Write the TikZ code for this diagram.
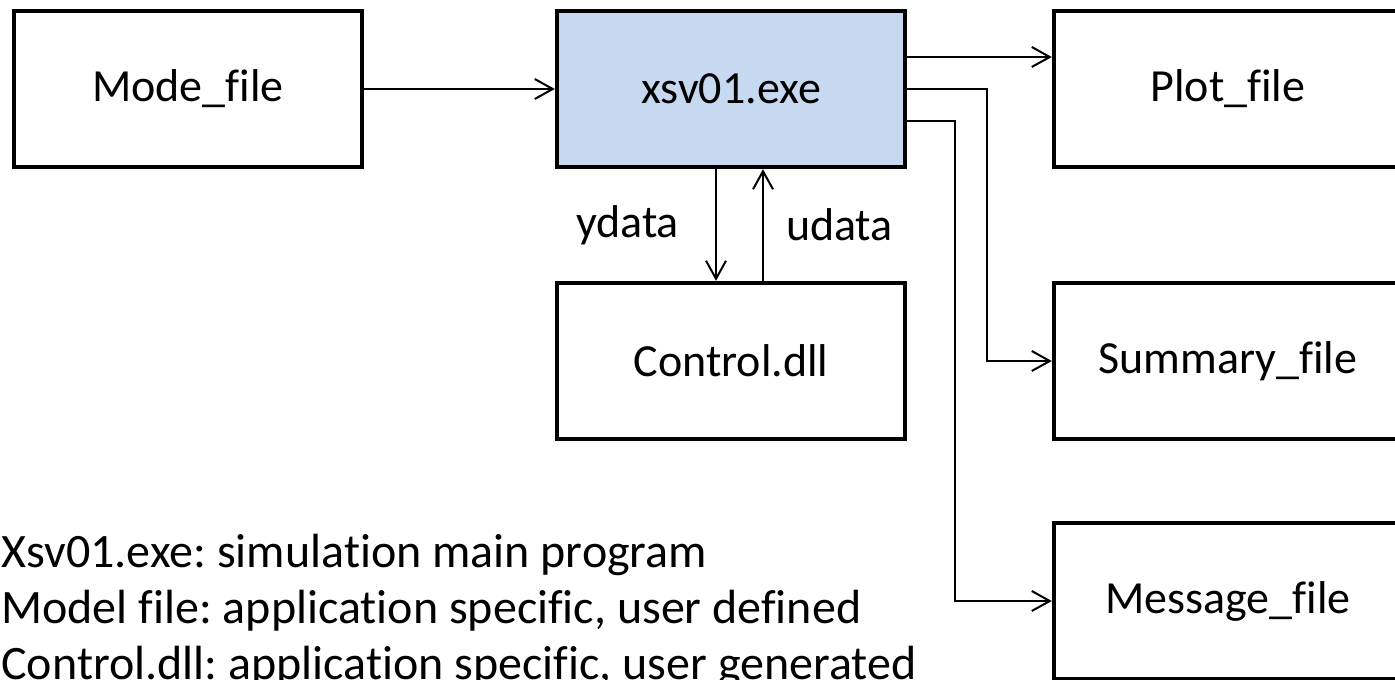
\documentclass[tikz,border=0pt]{standalone}
\usepackage{fontspec}
\setmainfont{Carlito}[Ligatures=NoCommon]
\usetikzlibrary{arrows.meta}
\definecolor{xsvblue}{RGB}{198,217,240}
\frenchspacing
\begin{document}
\begin{tikzpicture}[x=0.5pt,y=-0.5pt,
  box/.style={draw,line width=2.2pt,minimum width=174pt,minimum height=78pt,font=\fontsize{23}{28}\selectfont},
  flow/.style={line width=1pt,-{Straight Barb[length=9pt,width=10pt]}},
  note/.style={inner sep=0pt,font=\fontsize{23}{28}\selectfont}]
  \useasboundingbox (0,0) rectangle (1395,679);
  \node[box] (mode) at (188,89) {Mode\_file};
  \node[box,fill=xsvblue] (xsv) at (731,89) {xsv01.exe};
  \node[box] (plot) at (1228,89) {Plot\_file};
  \node[box] (ctrl) at (731,361) {Control.dll};
  \node[box] (summary) at (1228,361) {Summary\_file};
  \node[box] (message) at (1228,601) {Message\_file};
  \draw[flow] (mode) -- (xsv);
  \draw[flow] ([yshift=16pt]xsv.east) -- ([yshift=16pt]plot.west);
  \draw[flow] (xsv.east) -- ++(80,0) |- (summary.west);
  \draw[flow] ([yshift=-16pt]xsv.east) -- ++(48,0) |- (message.west);
  \draw[flow] ([xshift=-7.5pt]xsv.south) -- ([xshift=-7.5pt]ctrl.north)
    node[note,midway,left=18pt] (ylab) {ydata};
  \draw[flow] ([xshift=16pt]ctrl.north) -- ([xshift=16pt]xsv.south)
    node[note,midway,right=11pt] (ulab) {udata};
  \node[note,font=\fontsize{24}{28}\selectfont,anchor=base west] (line1) at (1,567) {Xsv01.exe: simulation main program};
  \node[note,font=\fontsize{24}{28}\selectfont,anchor=base west] (line2) at (1,623) {Model file: application specific, user defined};
  \node[note,font=\fontsize{24}{28}\selectfont,anchor=base west] (line3) at (1,679) {Control.dll: application specific, user generated};
\end{tikzpicture}
\end{document}
